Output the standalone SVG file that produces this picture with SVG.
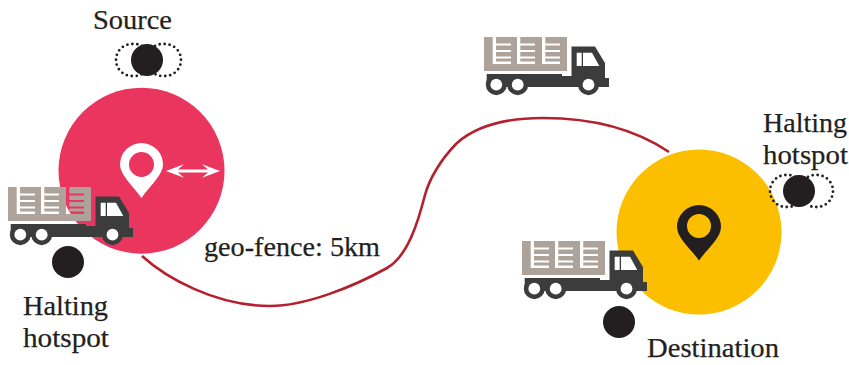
<svg xmlns="http://www.w3.org/2000/svg" width="849" height="365" viewBox="0 0 849 365">
<style>
text{font-family:"Liberation Serif","DejaVu Serif",serif;font-size:28px;fill:#231f20;stroke:#231f20;stroke-width:.25}
.dot{fill:#231f20}
.dots{fill:none;stroke:#231f20;stroke-width:2.8;stroke-linecap:round;stroke-dasharray:0 5}
.cargo{fill:#ada39a;fill-rule:evenodd}
.cab{fill:#3d3c3c}
.hole{fill:#fff}
</style>
<defs>
<g id="truck">
<path class="cargo" d="M0,0H83V34H0Z M8.700,0V27H27V24.500H12V21.500H27V19.500H12V15H27V13H12V8.500H27V6.500H12V0Z M33,0V27H51V24.500H36.300V21.500H51V19.500H36.300V15H51V13H36.300V8.500H51V6.500H36.300V0Z M58,0V27H76V24.500H61.300V21.500H76V19.500H61.300V15H76V13H61.300V8.500H76V6.500H61.300V0Z"/>
<path class="cab" d="M87.500,9.500H111L121,26V41H125V50H2.700V37H78V39H87.500Z"/>
<circle class="cab" cx="12.300" cy="47.700" r="10.500"/>
<circle class="cab" cx="33.700" cy="47.700" r="10.500"/>
<circle class="cab" cx="104.500" cy="47.700" r="10.500"/>
<circle class="hole" cx="12.300" cy="47.700" r="5.900"/>
<circle class="hole" cx="33.700" cy="47.700" r="5.900"/>
<circle class="hole" cx="104.500" cy="47.700" r="5.900"/>
<path class="hole" d="M92.700,15.700H97.700V29H92.700Z M99,15.700H108L115.300,29H99Z"/>
</g>
</defs>
<g id="connectors">
<path d="M142,256C165,277 215,306 270,306C305,306 353,287 387,268C408,256 418,222 425,195C429,180 440,160 457,143C475,127 505,118 543,118C590,118 632,127 669,152" fill="none" stroke="#b5202e" stroke-width="2.600"/>
</g>
<g id="source-fence">
<circle cx="141.500" cy="170.700" r="83" fill="#ea355e"/>
<path fill="#fff" fill-rule="evenodd" d="M141.500,198C134,187 120,175 120,164.500A21.500,21.500 0 0 1 163,164.500C163,175 149,187 141.500,198Z M141.500,152A12.500,12.500 0 1 0 141.500,177A12.500,12.500 0 1 0 141.500,152Z"/>
<path fill="#fff" d="M166,171L184,164.300L178,169.500H208L202,164.300L220,171L202,177.700L208,172.500H178L184,177.700Z"/>
</g>
<g id="destination-fence">
<circle cx="699" cy="232" r="82.500" fill="#fcbf00"/>
<path fill="#231f20" fill-rule="evenodd" d="M699,260.500C691,249 677,238 677,227A22,22 0 0 1 721,227C721,238 707,249 699,260.500Z M699,214A12,12 0 1 0 699,238A12,12 0 1 0 699,214Z"/>
</g>
<g id="source">
<path class="dots" d="M142,46C139,44 136,44 132,44A16,16 0 1 0 132,76C136,76 139,76 142,74 M155,46C158,44 161,44 165,44A16,16 0 1 1 165,76C161,76 158,76 155,74"/>
<circle class="dot" cx="147" cy="60" r="16"/>
<text x="93" y="29" textLength="79" lengthAdjust="spacingAndGlyphs">Source</text>
</g>
<g id="halting-right">
<path class="dots" d="M795,177C792,175 789,175 786,175A16,16 0 0 0 770,191A16,16 0 0 0 786,207C789,207 792,207 795,205 M808,177C811,175 814,175 817,175A16,16 0 1 1 817,207C814,207 811,207 808,205"/>
<circle class="dot" cx="799" cy="191" r="16"/>
<text x="763" y="132" textLength="84" lengthAdjust="spacingAndGlyphs">Halting</text>
<text x="763" y="164" textLength="85" lengthAdjust="spacingAndGlyphs">hotspot</text>
</g>
<g id="halting-left">
<circle class="dot" cx="68" cy="262" r="16"/>
<text x="23" y="315" textLength="85" lengthAdjust="spacingAndGlyphs">Halting</text>
<text x="23" y="347" textLength="86" lengthAdjust="spacingAndGlyphs">hotspot</text>
</g>
<g id="halt-destination"><circle class="dot" cx="619" cy="322" r="16"/></g>
<g id="truck-source"><use href="#truck" x="8" y="187"/></g>
<g id="truck-top"><use href="#truck" x="484" y="37"/></g>
<g id="truck-destination"><use href="#truck" x="522" y="241"/></g>
<g id="geo-label"><text x="204" y="256" textLength="176" lengthAdjust="spacingAndGlyphs">geo-fence: 5km</text></g>
<g id="destination-label"><text x="647" y="357" textLength="132" lengthAdjust="spacingAndGlyphs">Destination</text></g>
</svg>
